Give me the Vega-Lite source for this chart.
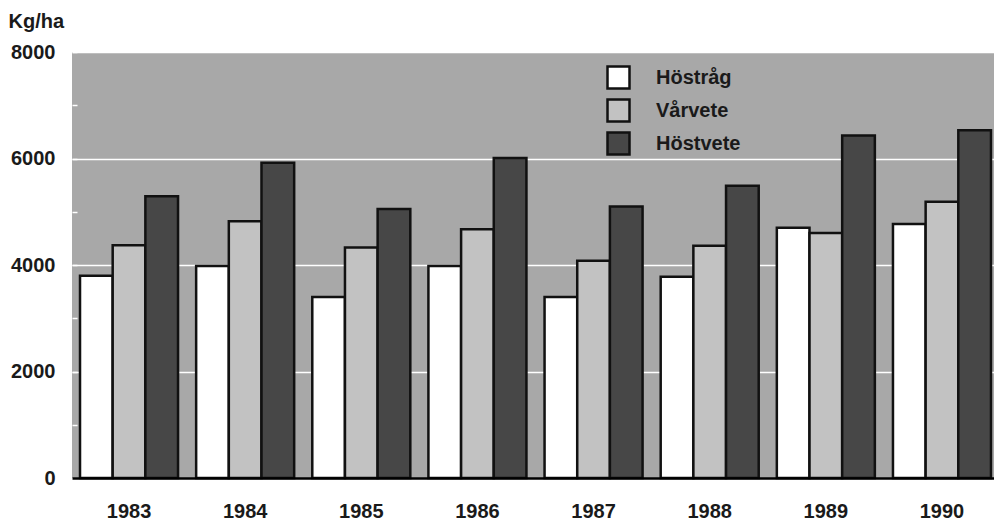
{
  "$schema": "https://vega.github.io/schema/vega-lite/v6.json",
  "width": 927,
  "height": 426,
  "autosize": "none",
  "padding": {"left": 72, "top": 52, "right": 0, "bottom": 43},
  "background": "white",
  "config": {
    "view": {"fill": "#a8a8a8", "stroke": null},
    "font": "Liberation Sans"
  },
  "data": {
    "values": [
      {"year": "1983", "crop": "Höstråg", "value": 3800},
      {"year": "1983", "crop": "Vårvete", "value": 4370},
      {"year": "1983", "crop": "Höstvete", "value": 5290},
      {"year": "1984", "crop": "Höstråg", "value": 3980},
      {"year": "1984", "crop": "Vårvete", "value": 4820},
      {"year": "1984", "crop": "Höstvete", "value": 5920},
      {"year": "1985", "crop": "Höstråg", "value": 3400},
      {"year": "1985", "crop": "Vårvete", "value": 4330},
      {"year": "1985", "crop": "Höstvete", "value": 5050},
      {"year": "1986", "crop": "Höstråg", "value": 3980},
      {"year": "1986", "crop": "Vårvete", "value": 4670},
      {"year": "1986", "crop": "Höstvete", "value": 6010},
      {"year": "1987", "crop": "Höstråg", "value": 3400},
      {"year": "1987", "crop": "Vårvete", "value": 4080},
      {"year": "1987", "crop": "Höstvete", "value": 5100},
      {"year": "1988", "crop": "Höstråg", "value": 3780},
      {"year": "1988", "crop": "Vårvete", "value": 4360},
      {"year": "1988", "crop": "Höstvete", "value": 5490},
      {"year": "1989", "crop": "Höstråg", "value": 4700},
      {"year": "1989", "crop": "Vårvete", "value": 4600},
      {"year": "1989", "crop": "Höstvete", "value": 6430},
      {"year": "1990", "crop": "Höstråg", "value": 4770},
      {"year": "1990", "crop": "Vårvete", "value": 5190},
      {"year": "1990", "crop": "Höstvete", "value": 6530}
    ]
  },
  "mark": {"type": "bar", "stroke": "#111111", "strokeWidth": 2.5},
  "encoding": {
    "x": {
      "field": "year",
      "type": "nominal",
      "scale": {"paddingInner": 0.156, "paddingOuter": 0.069},
      "axis": {
        "title": null,
        "labelAngle": 0,
        "labelFontSize": 20,
        "labelFontWeight": "bold",
        "labelColor": "#1a1a1a",
        "labelPadding": 23,
        "ticks": false,
        "domainColor": "#000000",
        "domainWidth": 2.5,
        "zindex": 1
      }
    },
    "xOffset": {
      "field": "crop",
      "type": "nominal",
      "sort": ["Höstråg", "Vårvete", "Höstvete"],
      "scale": {"paddingInner": 0, "paddingOuter": 0}
    },
    "y": {
      "field": "value",
      "type": "quantitative",
      "scale": {"domain": [0, 8000], "nice": false},
      "axis": {
        "values": [0, 1000, 2000, 3000, 4000, 5000, 6000, 7000, 8000],
        "format": "d",
        "labelExpr": "datum.value % 2000 === 0 ? datum.label : ''",
        "labelFontSize": 20,
        "labelFontWeight": "bold",
        "labelColor": "#1a1a1a",
        "labelPadding": 22,
        "domain": false,
        "ticks": true,
        "tickSize": -5,
        "tickColor": "#ffffff",
        "tickWidth": 1.5,
        "grid": true,
        "gridColor": "#ffffff",
        "gridWidth": 1.5,
        "gridOpacity": {"condition": {"test": "datum.value % 2000 === 0 && datum.value > 0", "value": 1}, "value": 0},
        "title": "Kg/ha",
        "titleAngle": 0,
        "titleAlign": "left",
        "titleBaseline": "alphabetic",
        "titleX": -64,
        "titleY": -25,
        "titleFontSize": 20,
        "titleFontWeight": "bold",
        "titleColor": "#1a1a1a"
      }
    },
    "color": {
      "field": "crop",
      "type": "nominal",
      "sort": ["Höstråg", "Vårvete", "Höstvete"],
      "scale": {"domain": ["Höstråg", "Vårvete", "Höstvete"], "range": ["#ffffff", "#c2c2c2", "#474747"]},
      "legend": {
        "title": null,
        "orient": "none",
        "legendX": 534,
        "legendY": 13,
        "padding": 0,
        "symbolType": "square",
        "symbolSize": 484,
        "symbolStrokeColor": "#111111",
        "symbolStrokeWidth": 2.5,
        "symbolOpacity": 1,
        "labelFontSize": 20,
        "labelFontWeight": "bold",
        "labelColor": "#1a1a1a",
        "labelOffset": 25,
        "rowPadding": 0
      }
    }
  }
}
